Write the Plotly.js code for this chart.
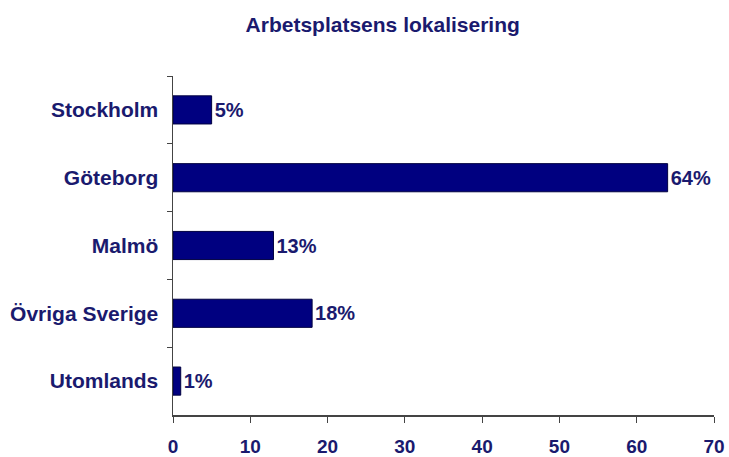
<!DOCTYPE html>
<html>
<head>
<meta charset="utf-8">
<script src="https://cdn.plot.ly/plotly-3.0.1.min.js"></script>
<style>html,body{margin:0;padding:0;background:#fff;}#chart{width:729px;height:457px;}</style>
</head>
<body>
<div id="chart"></div>
<script>
const categories = ["Stockholm", "Göteborg", "Malmö", "Övriga Sverige", "Utomlands"];
const values = [5, 64, 13, 18, 1];
const valueLabels = ["5%", "64%", "13%", "18%", "1%"];
const xTickValues = [0, 10, 20, 30, 40, 50, 60, 70];

const navyText = "#1a1a6e";
const fontFamily = "Liberation Sans, Arial, sans-serif";

const trace = {
  type: "bar",
  orientation: "h",
  y: categories,
  x: values,
  text: valueLabels,
  textposition: "outside",
  cliponaxis: false,
  textfont: {family: fontFamily, size: 20, color: navyText, weight: "bold"},
  marker: {color: "#000080", line: {color: "#000040", width: 1}},
  hoverinfo: "none"
};

const layout = {
  width: 729,
  height: 457,
  margin: {l: 173, r: 15, t: 76, b: 42},
  paper_bgcolor: "#ffffff",
  plot_bgcolor: "#ffffff",
  showlegend: false,
  bargap: 0.585,
  title: {
    text: "Arbetsplatsens lokalisering",
    font: {family: fontFamily, size: 21, color: navyText, weight: "bold"},
    x: 0.525,
    xanchor: "center",
    y: 0.945,
    yanchor: "middle"
  },
  xaxis: {
    range: [0, 70],
    tickvals: xTickValues,
    showgrid: false,
    zeroline: false,
    showline: true,
    linecolor: "#444444",
    linewidth: 1.5,
    ticks: "outside",
    ticklen: 6,
    tickcolor: "#444444",
    ticklabelstandoff: 8,
    tickfont: {family: fontFamily, size: 19, color: navyText, weight: "bold"},
    fixedrange: true
  },
  yaxis: {
    autorange: "reversed",
    showgrid: false,
    zeroline: false,
    showline: true,
    linecolor: "#444444",
    linewidth: 1.5,
    ticks: "outside",
    tickson: "boundaries",
    ticklen: 5,
    tickcolor: "#444444",
    ticklabelstandoff: 9,
    tickfont: {family: fontFamily, size: 21, color: navyText, weight: "bold"},
    fixedrange: true
  }
};

Plotly.newPlot("chart", [trace], layout, {displayModeBar: false, staticPlot: true});
</script>
</body>
</html>
